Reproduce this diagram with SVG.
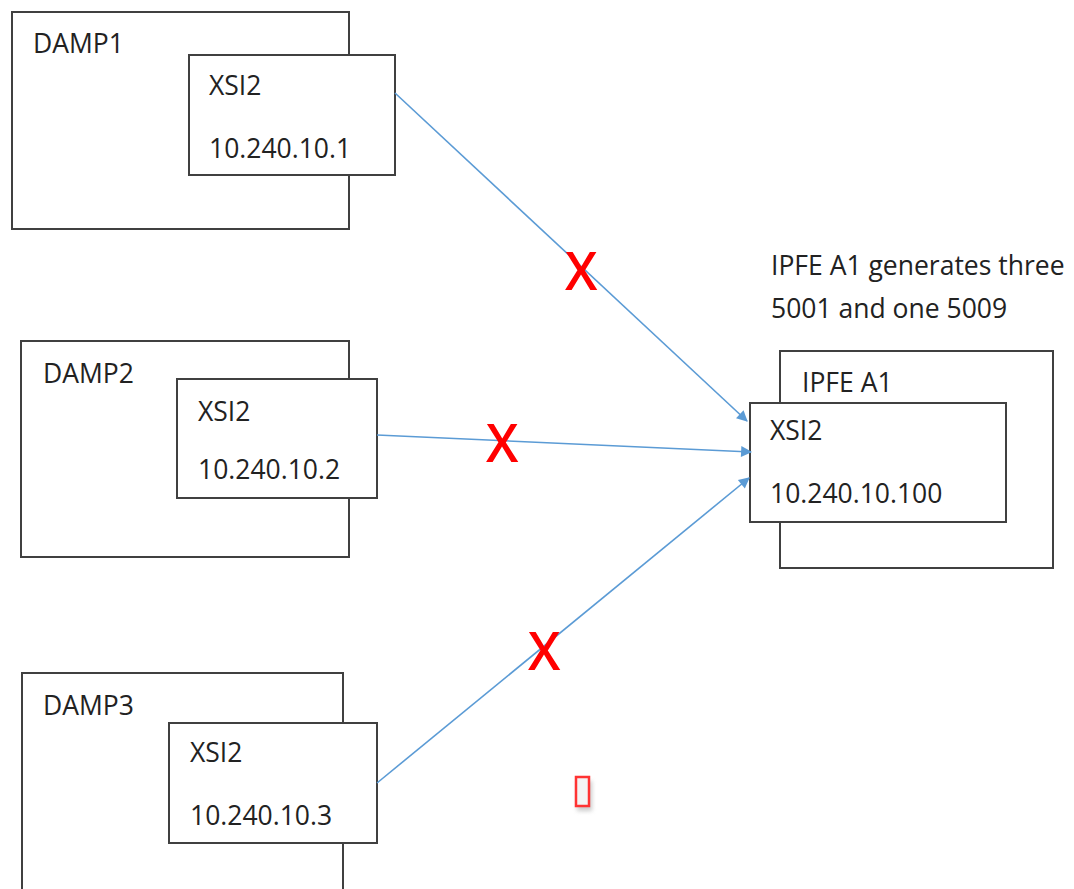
<svg xmlns="http://www.w3.org/2000/svg" width="1074" height="889" viewBox="0 0 1074 889">
<style>
.box{fill:#fff;stroke:#404040;stroke-width:2}
.t{font-family:"Open Sans","Liberation Sans",sans-serif;font-size:26.5px;fill:#222}
.x{font-family:"Open Sans","Liberation Sans",sans-serif;font-size:52px;font-weight:600;fill:#f00}
.c{stroke:#5B9BD5;stroke-width:1.6;fill:none;marker-end:url(#ah)}
</style>
<defs>
<marker id="ah" viewBox="0 0 10 10" refX="9" refY="5" markerWidth="15" markerHeight="11" markerUnits="userSpaceOnUse" orient="auto"><path d="M0,0 L10,5 L0,10 z" fill="#5B9BD5"/></marker>
<filter id="sh" x="-50%" y="-50%" width="200%" height="200%"><feGaussianBlur stdDeviation="2"/></filter>
</defs>
<rect width="1074" height="889" fill="#fff"/>
<g id="damp1">
<rect class="box" x="12" y="12" width="337" height="217"/>
<text class="t" x="33" y="53">DAMP1</text>
<rect class="box" x="189" y="55" width="206" height="120"/>
<text class="t" x="209" y="95">XSI2</text>
<text class="t" x="209" y="158">10.240.10.1</text>
</g>
<g id="damp2">
<rect class="box" x="21" y="341" width="328" height="216"/>
<text class="t" x="43" y="383">DAMP2</text>
<rect class="box" x="177" y="379" width="200" height="119"/>
<text class="t" x="198" y="421">XSI2</text>
<text class="t" x="198" y="479">10.240.10.2</text>
</g>
<g id="damp3">
<rect class="box" x="22" y="673" width="321" height="230"/>
<text class="t" x="43" y="715">DAMP3</text>
<rect class="box" x="169" y="723" width="208" height="120"/>
<text class="t" x="190" y="762">XSI2</text>
<text class="t" x="190" y="825">10.240.10.3</text>
</g>
<g id="ipfe">
<rect class="box" x="780" y="351" width="273" height="217"/>
<text class="t" x="802" y="392">IPFE A1</text>
<rect class="box" x="750" y="403" width="256" height="119"/>
<text class="t" x="770" y="440">XSI2</text>
<text class="t" x="770" y="503">10.240.10.100</text>
</g>
<g id="note">
<text class="t" x="771" y="275">IPFE A1 generates three</text>
<text class="t" x="771" y="318">5001 and one 5009</text>
</g>
<g id="connectors">
<path class="c" d="M395,93 L747,421"/>
<path class="c" d="M377,435 L751,452"/>
<path class="c" d="M377,783 L749,478"/>
</g>
<g id="marks">
<text class="x" x="565" y="290">X</text>
<text class="x" x="486" y="462">X</text>
<text class="x" x="528" y="670">X</text>
<rect x="577" y="781" width="15" height="30" fill="#999" opacity="0.5" filter="url(#sh)"/>
<rect x="576" y="777" width="13" height="29" fill="#f4f4f4" stroke="#f33" stroke-width="2.5"/>
</g>
</svg>
